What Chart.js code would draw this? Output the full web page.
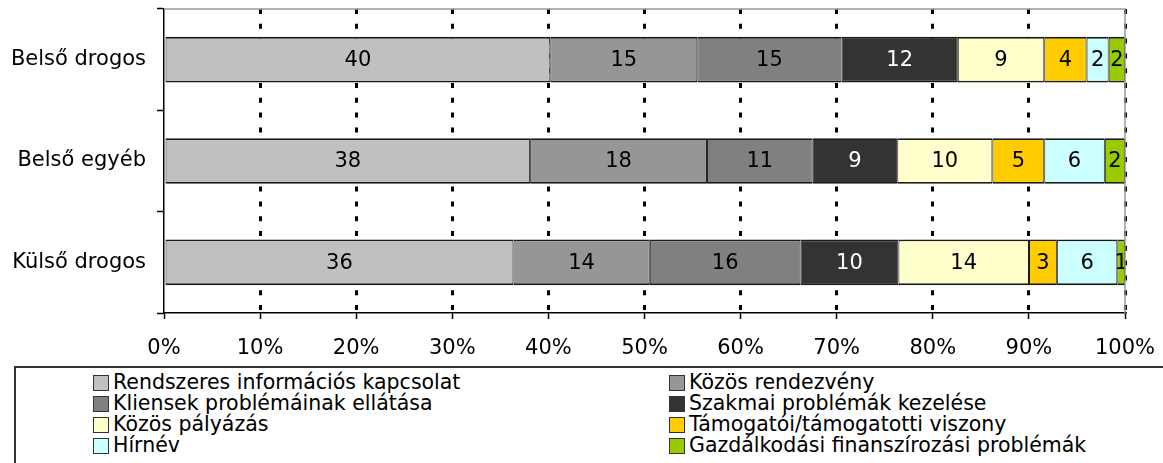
<!DOCTYPE html>
<html lang="hu">
<head>
<meta charset="UTF-8">
<title>Kapcsolatok</title>
<style>
  body { margin: 0; background: #fff; font-family: "DejaVu Sans", sans-serif; }
  #wrap { position: relative; width: 1163px; height: 463px; overflow: hidden; }
  #chart { position: absolute; left: 0; top: 0; }
  #legend {
    position: absolute; left: 14px; top: 366px; width: 1300px; height: 200px;
    border-top: 2px solid #333; border-left: 2px solid #333;
  }
  .item { position: absolute; display: flex; align-items: center; height: 21px;
          font-size: 20.5px; line-height: 21px; color: #000; white-space: nowrap; }
  .box { width: 16px; height: 16px; box-sizing: border-box; border: 1.5px solid #333; margin-right: 4px; }
</style>
</head>
<body>
<div id="wrap">
  <canvas id="chart" width="1163" height="366"></canvas>
  <div id="legend"></div>
</div>

<script src="https://cdn.jsdelivr.net/npm/chart.js@4"></script>
<script>
"use strict"

// categories (top to bottom)
const categories = ["Belső drogos", "Belső egyéb", "Külső drogos"]

// series values (%), per category
const rendszeres = [40.2, 38.1, 36.4]
const rendezveny = [15.3, 18.4, 14.2]
const kliensek   = [15.0, 11.0, 15.7]
const szakmai    = [12.1, 8.8, 10.2]
const palyazas   = [9.0, 9.9, 13.6]
const tamogatoi  = [4.4, 5.4, 2.9]
const hirnev     = [2.3, 6.3, 6.3]
const gazdalk    = [1.7, 2.1, 0.8]

const seriesNames = [
    "Rendszeres információs kapcsolat",
    "Közös rendezvény",
    "Kliensek problémáinak ellátása",
    "Szakmai problémák kezelése",
    "Közös pályázás",
    "Támogatói/támogatotti viszony",
    "Hírnév",
    "Gazdálkodási finanszírozási problémák"
]
const seriesValues = [rendszeres, rendezveny, kliensek, szakmai, palyazas, tamogatoi, hirnev, gazdalk]
const colors = ["#C0C0C0", "#969696", "#808080", "#333333", "#FFFFCC", "#FFCC00", "#CCFFFF", "#99CC00"]

const xTicks = [0, 10, 20, 30, 40, 50, 60, 70, 80, 90, 100]

// each bar is shown as 100%
const totals = categories.map((c, i) => seriesValues.reduce((s, arr) => s + arr[i], 0))

Chart.defaults.font.family = "DejaVu Sans"
Chart.defaults.font.size = 21
Chart.defaults.color = "#000"

const datasets = seriesNames.map((name, k) => ({
    label: name,
    data: seriesValues[k].map((v, i) => v / totals[i] * 100),
    raw: seriesValues[k],
    backgroundColor: colors[k],
    borderColor: "#1a1a1a",
    borderWidth: { top: 1.8, bottom: 1.8, left: 1, right: 1 },
    borderSkipped: false,
    barPercentage: 0.45,
    categoryPercentage: 1
}))

// numbers inside the segments
const barLabels = {
    id: "barLabels",
    afterDatasetsDraw(chart) {
        const ctx = chart.ctx
        ctx.save()
        ctx.font = "21px 'DejaVu Sans'"
        ctx.textAlign = "center"
        ctx.textBaseline = "middle"
        chart.data.datasets.forEach((ds, k) => {
            chart.getDatasetMeta(k).data.forEach((bar, i) => {
                ctx.fillStyle = k === 3 ? "#fff" : "#000"
                ctx.fillText(String(Math.round(ds.raw[i])), (bar.x + bar.base) / 2, bar.y + 1)
            })
        })
        ctx.restore()
    }
}

// grey frame on the top and right of the plot area
const plotFrame = {
    id: "plotFrame",
    afterDatasetsDraw(chart) {
        const a = chart.chartArea
        const ctx = chart.ctx
        ctx.save()
        ctx.strokeStyle = "#9a9a9a"
        ctx.lineWidth = 1.5
        ctx.beginPath()
        ctx.moveTo(a.left, a.top)
        ctx.lineTo(a.right, a.top)
        ctx.lineTo(a.right, a.bottom)
        ctx.stroke()
        ctx.restore()
    }
}

new Chart(document.getElementById("chart"), {
    type: "bar",
    data: { labels: categories, datasets: datasets },
    options: {
        indexAxis: "y",
        responsive: false,
        animation: false,
        layout: { padding: { top: 9, right: 38, left: 0, bottom: 0 } },
        plugins: { legend: { display: false }, tooltip: { enabled: false } },
        scales: {
            x: {
                stacked: true,
                min: 0,
                max: 100,
                afterBuildTicks: (scale) => { scale.ticks = xTicks.map(v => ({ value: v })) },
                afterFit: (scale) => {
                    scale.height = 53
                    scale.paddingLeft = 0
                    scale.paddingRight = 0
                },
                ticks: { padding: 17, callback: (v) => v + "%", maxRotation: 0 },
                grid: {
                    color: (c) => c.index === 0 ? "rgba(0,0,0,0)" : "#000",
                    lineWidth: 3,
                    tickLength: 6,
                    tickColor: "#000",
                    tickWidth: 1.5,
                    tickBorderDash: []
                },
                border: { display: true, color: "#000", width: 1.5, dash: [5, 9.8] }
            },
            y: {
                stacked: true,
                afterFit: (scale) => {
                    scale.width = 164
                    scale.paddingTop = 0
                    scale.paddingBottom = 0
                },
                ticks: { padding: 11 },
                grid: {
                    drawOnChartArea: false,
                    offset: true,
                    tickLength: 7,
                    tickColor: "#000",
                    tickWidth: 1.5
                },
                border: { display: true, color: "#000", width: 1.5 }
            }
        }
    },
    plugins: [barLabels, plotFrame]
})

// legend, two columns
const legend = document.getElementById("legend")
seriesNames.forEach((name, k) => {
    const item = document.createElement("div")
    item.className = "item"
    item.style.left = (k % 2 === 0 ? 93 - 16 : 669 - 16) + "px"
    item.style.top = (372 - 368 + 21 * Math.floor(k / 2)) + "px"
    const box = document.createElement("span")
    box.className = "box"
    box.style.background = colors[k]
    const txt = document.createElement("span")
    txt.textContent = name
    item.appendChild(box)
    item.appendChild(txt)
    legend.appendChild(item)
})
</script>
</body>
</html>
